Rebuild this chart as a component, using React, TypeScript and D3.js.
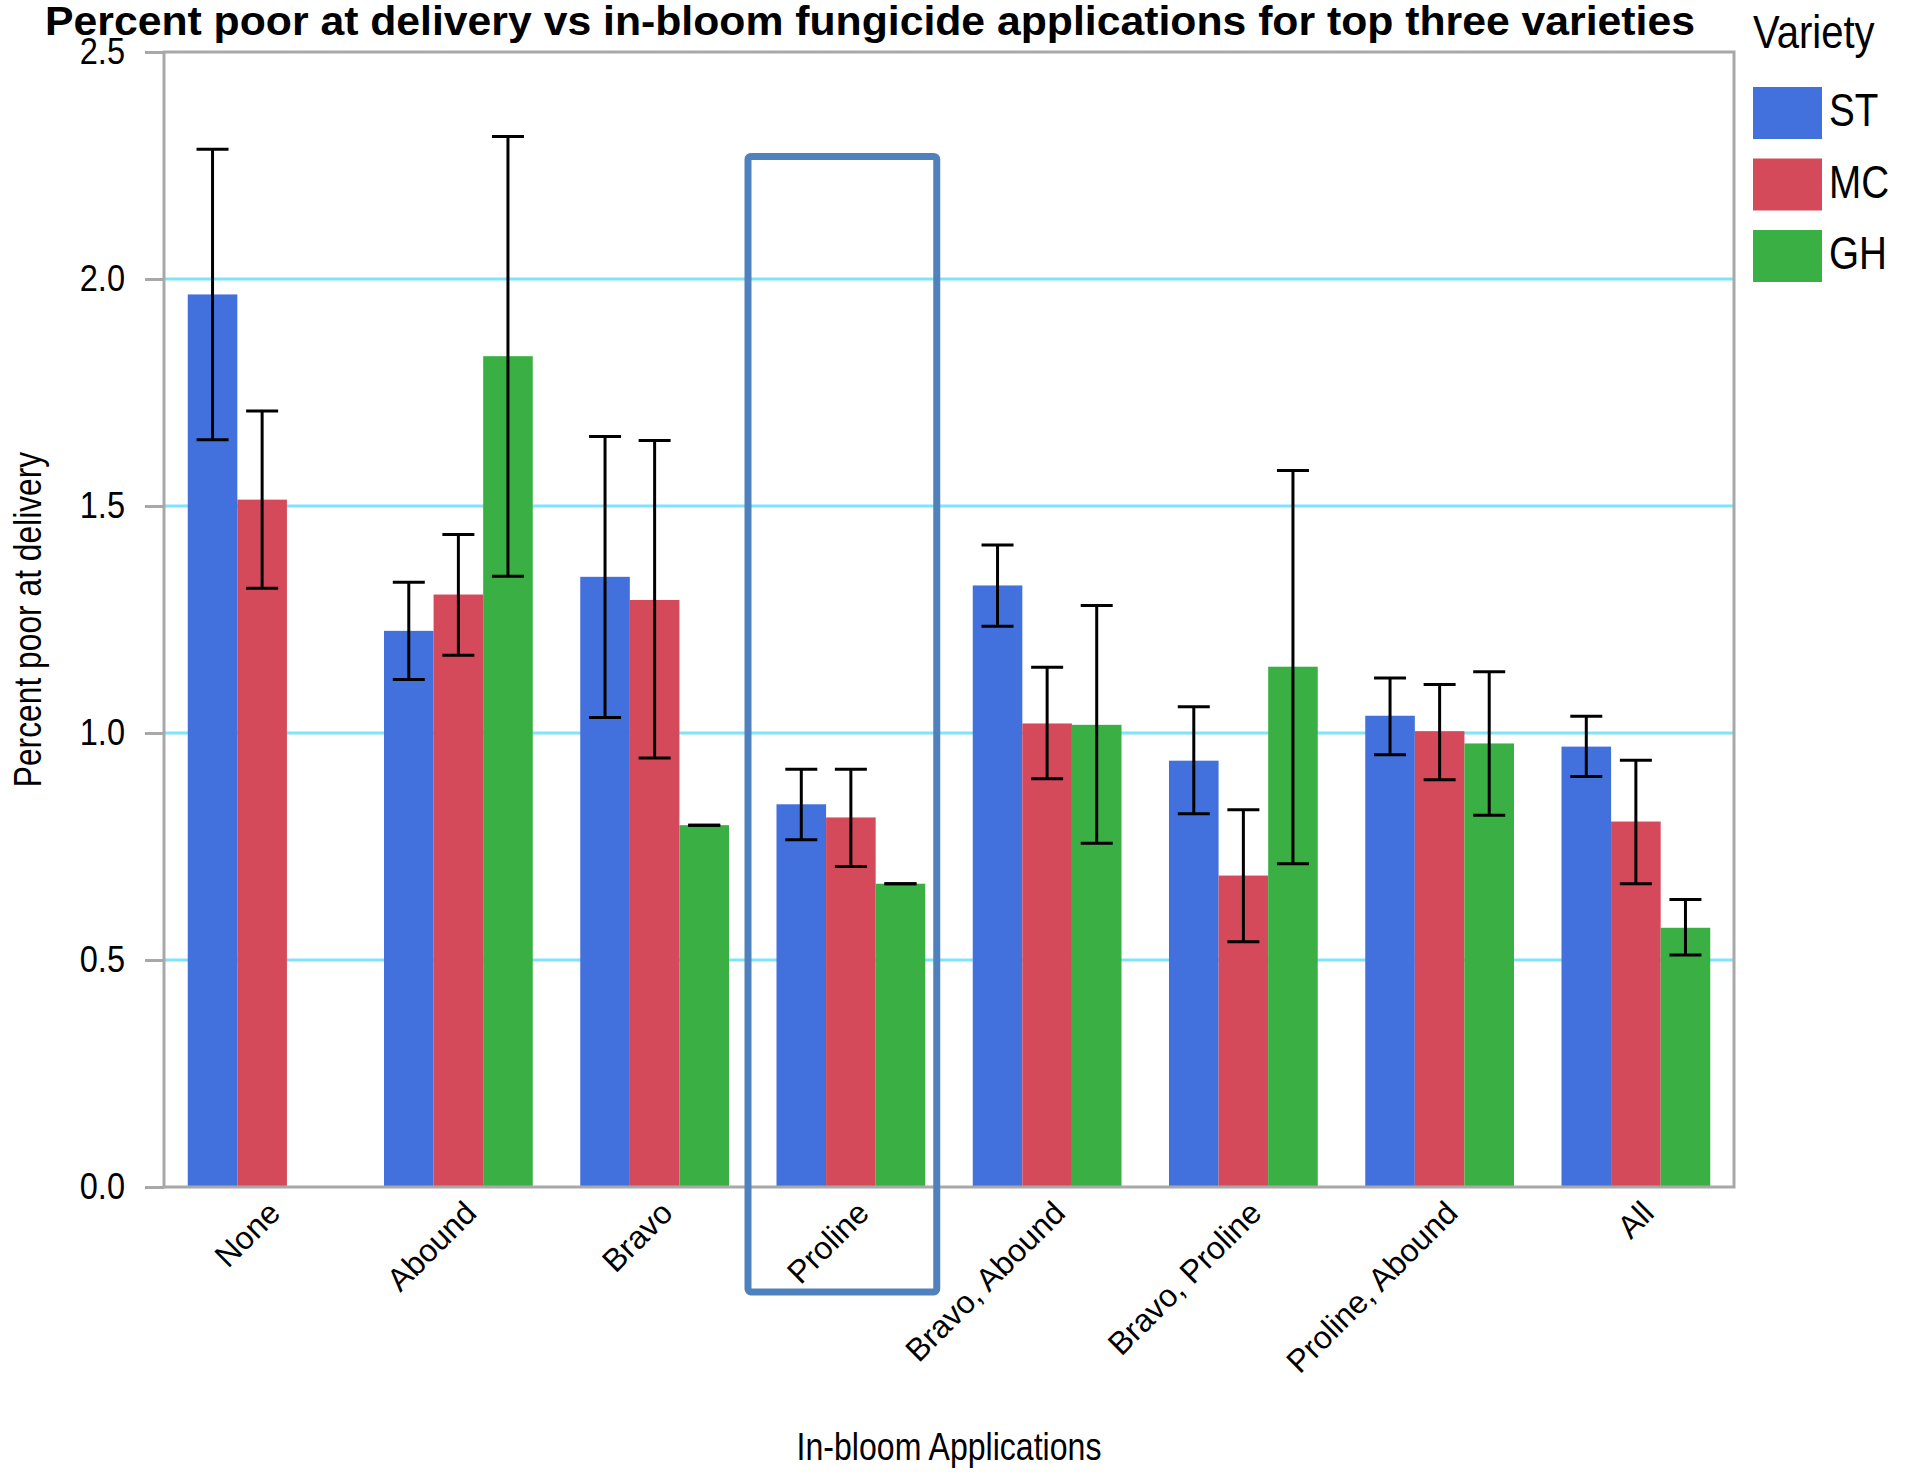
import { useEffect, useRef } from "react";
import * as d3 from "d3";

// categories on the x axis
const categories = [
  "None",
  "Abound",
  "Bravo",
  "Proline",
  "Bravo, Abound",
  "Bravo, Proline",
  "Proline, Abound",
  "All",
];
const varieties = ["ST", "MC", "GH"];
const varietyColors = ["#4271de", "#d54a5a", "#3ab044"];

// mean percent poor, with error bar low / high
const stValues = [1.966, 1.225, 1.344, 0.843, 1.325, 0.939, 1.038, 0.97];
const stLow = [1.646, 1.118, 1.034, 0.765, 1.235, 0.822, 0.952, 0.904];
const stHigh = [2.286, 1.332, 1.653, 0.92, 1.414, 1.058, 1.121, 1.037];

const mcValues = [1.514, 1.305, 1.293, 0.814, 1.021, 0.686, 1.004, 0.805];
const mcLow = [1.319, 1.171, 0.945, 0.706, 0.899, 0.54, 0.897, 0.668];
const mcHigh = [1.709, 1.437, 1.644, 0.92, 1.145, 0.831, 1.107, 0.94];

const ghValues = [null, 1.83, 0.797, 0.668, 1.018, 1.146, 0.977, 0.571];
const ghLow = [null, 1.345, 0.797, 0.668, 0.757, 0.712, 0.819, 0.511];
const ghHigh = [null, 2.314, 0.797, 0.668, 1.281, 1.578, 1.135, 0.633];

const yTicks = [0, 0.5, 1.0, 1.5, 2.0, 2.5];
const gridTicks = [0.5, 1.0, 1.5, 2.0];

const highlightCategory = "Proline";
const highlightTop = 2.27;

const WIDTH = 1913;
const HEIGHT = 1477;

const FONT = "'Liberation Sans', Arial, sans-serif";

// the original uses a condensed face; squeeze the regular one to match
function squeeze(sel: d3.Selection<any, any, any, any>, factor: number) {
  sel.each(function () {
    const node = this as SVGTextElement;
    const w = node.getComputedTextLength();
    d3.select(node)
      .attr("textLength", w * factor)
      .attr("lengthAdjust", "spacingAndGlyphs");
  });
}

export default function App() {
  const svgRef = useRef<SVGSVGElement>(null);

  useEffect(() => {
    if (!svgRef.current) return;
    const svg = d3.select(svgRef.current);
    svg.selectAll("*").remove();

    const margin = { top: 52, right: 179, bottom: 290, left: 164 };
    const left = margin.left;
    const right = WIDTH - margin.right;
    const top = margin.top;
    const bottom = HEIGHT - margin.bottom;

    const series = [
      { key: "ST", values: stValues, low: stLow, high: stHigh },
      { key: "MC", values: mcValues, low: mcLow, high: mcHigh },
      { key: "GH", values: ghValues, low: ghLow, high: ghHigh },
    ];

    const x0 = d3
      .scaleBand()
      .domain(categories)
      .range([left, right])
      .paddingInner(0.242)
      .paddingOuter(0.121);

    const x1 = d3
      .scaleBand()
      .domain(varieties)
      .range([0, x0.bandwidth()])
      .padding(0);

    const y = d3.scaleLinear().domain([0, 2.5]).range([bottom, top]);

    const color = d3.scaleOrdinal<string, string>().domain(varieties).range(varietyColors);

    svg.append("rect").attr("width", WIDTH).attr("height", HEIGHT).attr("fill", "#fff");

    // gridlines
    svg
      .append("g")
      .selectAll("line")
      .data(gridTicks)
      .enter()
      .append("line")
      .attr("x1", left)
      .attr("x2", right)
      .attr("y1", (d) => y(d))
      .attr("y2", (d) => y(d))
      .attr("stroke", "#7fe4fb")
      .attr("stroke-width", 3);

    // bars
    const bars = svg.append("g");
    series.forEach((s) => {
      categories.forEach((c, i) => {
        const v = s.values[i];
        if (v == null) return;
        bars
          .append("rect")
          .attr("x", x0(c)! + x1(s.key)!)
          .attr("y", y(v))
          .attr("width", x1.bandwidth())
          .attr("height", y(0) - y(v))
          .attr("fill", color(s.key));
      });
    });

    // error bars
    const errs = svg.append("g").attr("stroke", "#000").attr("stroke-width", 3);
    const capW = 32;
    series.forEach((s) => {
      categories.forEach((c, i) => {
        const lo = s.low[i];
        const hi = s.high[i];
        if (lo == null || hi == null) return;
        const cx = x0(c)! + x1(s.key)! + x1.bandwidth() / 2;
        errs.append("line").attr("x1", cx).attr("x2", cx).attr("y1", y(hi)).attr("y2", y(lo));
        errs
          .append("line")
          .attr("x1", cx - capW / 2)
          .attr("x2", cx + capW / 2)
          .attr("y1", y(hi))
          .attr("y2", y(hi));
        errs
          .append("line")
          .attr("x1", cx - capW / 2)
          .attr("x2", cx + capW / 2)
          .attr("y1", y(lo))
          .attr("y2", y(lo));
      });
    });

    // frame
    svg
      .append("rect")
      .attr("x", left)
      .attr("y", top)
      .attr("width", right - left)
      .attr("height", bottom - top)
      .attr("fill", "none")
      .attr("stroke", "#a8a8a8")
      .attr("stroke-width", 3);

    // y axis
    const yAxis = svg
      .append("g")
      .attr("transform", `translate(${left},0)`)
      .call(d3.axisLeft(y).tickValues(yTicks).tickFormat(d3.format(".1f")).tickSize(19).tickPadding(20));
    yAxis.select(".domain").remove();
    yAxis.selectAll(".tick line").attr("stroke", "#a8a8a8").attr("stroke-width", 3);
    const yTickText = yAxis
      .selectAll(".tick text")
      .attr("font-family", FONT)
      .attr("font-size", 37)
      .attr("fill", "#000");
    squeeze(yTickText, 0.88);

    // x category labels
    const xLab = svg.append("g");
    categories.forEach((c) => {
      const cx = x0(c)! + x0.bandwidth() / 2;
      xLab
        .append("text")
        .attr("transform", `translate(${cx + 20},${bottom + 28}) rotate(-45)`)
        .attr("text-anchor", "end")
        .attr("font-family", FONT)
        .attr("font-size", 32)
        .attr("fill", "#000")
        .text(c);
    });

    // highlight box around one category
    const hx = x0(highlightCategory)!;
    svg
      .append("rect")
      .attr("x", hx - 28.5)
      .attr("y", y(highlightTop))
      .attr("width", x0.bandwidth() + 40)
      .attr("height", bottom + 105 - y(highlightTop))
      .attr("rx", 3)
      .attr("fill", "none")
      .attr("stroke", "#4f81bd")
      .attr("stroke-width", 7);

    // titles
    svg
      .append("text")
      .attr("x", 870)
      .attr("y", 35)
      .attr("text-anchor", "middle")
      .attr("font-family", FONT)
      .attr("font-weight", "bold")
      .attr("font-size", 40)
      .attr("textLength", 1650)
      .attr("lengthAdjust", "spacingAndGlyphs")
      .text("Percent poor at delivery vs in-bloom fungicide applications for top three varieties");

    const yTitle = svg
      .append("text")
      .attr("transform", `translate(41,${(top + bottom) / 2}) rotate(-90)`)
      .attr("text-anchor", "middle")
      .attr("font-family", FONT)
      .attr("font-size", 38)
      .text("Percent poor at delivery");
    squeeze(yTitle, 0.836);

    const xTitle = svg
      .append("text")
      .attr("x", (left + right) / 2)
      .attr("y", 1460)
      .attr("text-anchor", "middle")
      .attr("font-family", FONT)
      .attr("font-size", 38)
      .text("In-bloom Applications");
    squeeze(xTitle, 0.844);

    // legend
    const lg = svg.append("g").attr("transform", "translate(1753,0)");
    const lgTitle = lg
      .append("text")
      .attr("x", 0)
      .attr("y", 48)
      .attr("font-family", FONT)
      .attr("font-size", 46)
      .text("Variety");
    squeeze(lgTitle, 0.87);
    varieties.forEach((v, i) => {
      lg.append("rect")
        .attr("x", 0)
        .attr("y", 87 + i * 71.5)
        .attr("width", 69)
        .attr("height", 52)
        .attr("fill", color(v));
      const t = lg
        .append("text")
        .attr("x", 76)
        .attr("y", 126 + i * 71.5)
        .attr("font-family", FONT)
        .attr("font-size", 46)
        .text(v);
      squeeze(t, 0.84);
    });
  }, []);

  return (
    <svg
      ref={svgRef}
      width={WIDTH}
      height={HEIGHT}
      style={{ position: "absolute", left: 0, top: 0, display: "block" }}
    />
  );
}
